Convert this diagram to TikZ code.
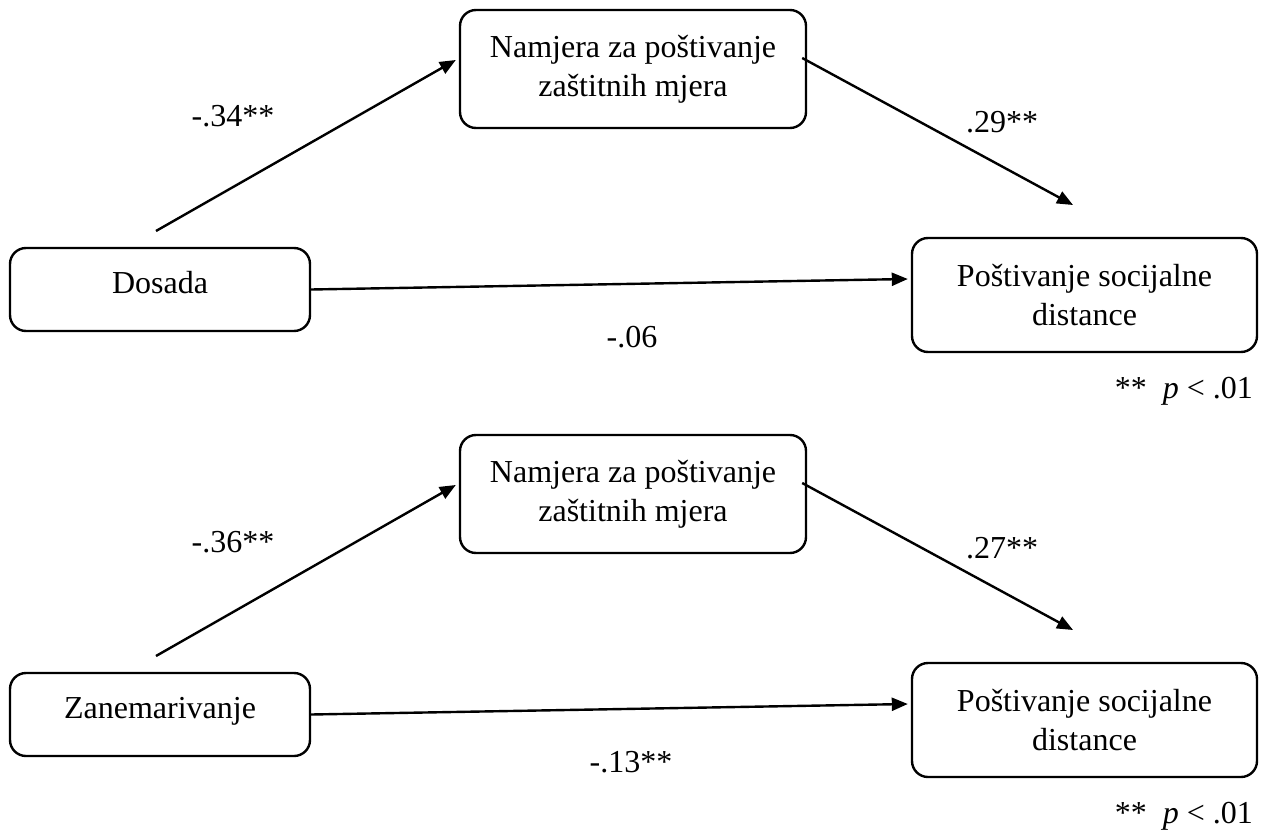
\documentclass[tikz,border=0pt]{standalone}
\usepackage{fontspec}
\setmainfont{Liberation Serif}
\usetikzlibrary{arrows.meta}
\begin{document}
\begin{tikzpicture}[x=1pt,y=-1pt,
  box/.style={draw, line width=2.4pt, rounded corners=16pt, align=center,
    font=\fontsize{32}{39}\selectfont, inner sep=0pt},
  onebox/.style={box, text height=22pt, text depth=15pt},
  arr/.style={line width=2.4pt, -{Triangle[length=16pt,width=13pt]}},
  lab/.style={anchor=base, font=\fontsize{32}{39}\selectfont, inner sep=0pt}]
\useasboundingbox (0,0) rectangle (1265,834);

% ---------- top panel ----------
\node[box, minimum width=346pt, minimum height=118pt] (nam1) at (633,69)
  {Namjera za poštivanje\\zaštitnih mjera};
\node[onebox, minimum width=300pt, minimum height=83pt] (dos) at (160,289.5) {Dosada};
\node[box, minimum width=345pt, minimum height=114pt] (pos1) at (1084.5,295)
  {Poštivanje socijalne\\distance};

\coordinate (s1) at (156,231);
\coordinate (e1) at (1073,205);
\draw[arr] (s1) -- ([xshift=-3pt,yshift=9pt]nam1.west);
\draw[arr] ([xshift=-5pt,yshift=11pt]nam1.east) -- (e1);
\draw[arr] (dos.east) -- ([xshift=-3pt,yshift=16pt]pos1.west);

\node[lab] (l1) at (233,127) {-.34**};
\node[lab] (l2) at (1002,133) {.29**};
\node[lab] (l3) at (632,347) {-.06};
\node[lab, anchor=base east] (n1) at (1253,398) {**\ \ \textit{p} < .01};

% ---------- bottom panel ----------
\node[box, minimum width=346pt, minimum height=118pt] (nam2) at (633,494)
  {Namjera za poštivanje\\zaštitnih mjera};
\node[onebox, minimum width=300pt, minimum height=83pt] (zan) at (160,714.5) {Zanemarivanje};
\node[box, minimum width=345pt, minimum height=114pt] (pos2) at (1084.5,720)
  {Poštivanje socijalne\\distance};

\coordinate (s2) at (156,656);
\coordinate (e2) at (1073,630);
\draw[arr] (s2) -- ([xshift=-3pt,yshift=9pt]nam2.west);
\draw[arr] ([xshift=-5pt,yshift=11pt]nam2.east) -- (e2);
\draw[arr] (zan.east) -- ([xshift=-3pt,yshift=16pt]pos2.west);

\node[lab] (l4) at (233,552) {-.36**};
\node[lab] (l5) at (1002,558) {.27**};
\node[lab] (l6) at (631,772) {-.13**};
\node[lab, anchor=base east] (n2) at (1253,823) {**\ \ \textit{p} < .01};
\end{tikzpicture}
\end{document}
